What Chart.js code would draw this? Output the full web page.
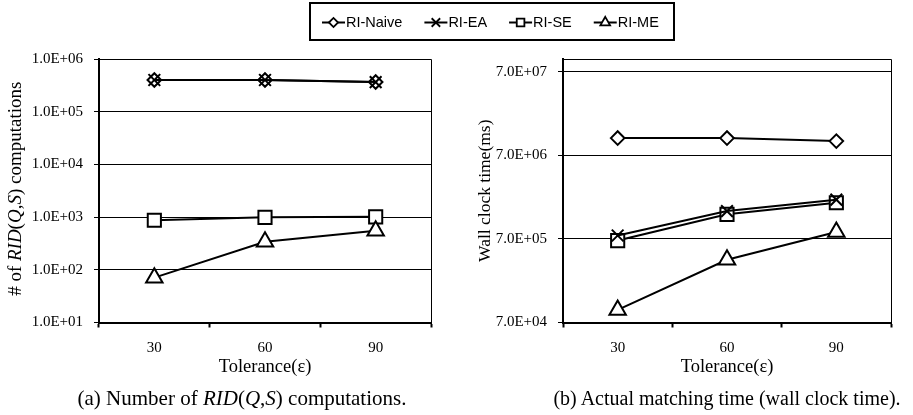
<!DOCTYPE html>
<html>
<head>
<meta charset="utf-8">
<script src="https://cdn.jsdelivr.net/npm/chart.js@4.4.0/dist/chart.umd.min.js"></script>
<style>
  html, body { margin: 0; padding: 0; background: #fff; }
  #wrap { position: relative; width: 913px; height: 415px; overflow: hidden; }
  canvas { position: absolute; left: 0; top: 0; }
  .cap {
    position: absolute; white-space: nowrap; color: #000;
    font-family: "Liberation Serif", "DejaVu Serif", serif; font-size: 20px;
    transform: translate(-50%, -50%);
  }
  .cap.a { font-size: 21px; }
</style>
</head>
<body>
<div id="wrap">
  <canvas id="chartA" width="913" height="415"></canvas>
  <canvas id="chartB" width="913" height="415"></canvas>
  <div class="cap a" style="left:242px; top:398px">(a) Number of <i>RID</i>(<i>Q</i>,<i>S</i>) computations.</div>
  <div class="cap" style="left:727px; top:398px">(b) Actual matching time (wall clock time).</div>
</div>
<script>
// Categories and series names
const tolerance = ['30', '60', '90'];
const seriesNames = ['RI-Naive', 'RI-EA', 'RI-SE', 'RI-ME'];

// (a) number of RID(Q,S) computations
const ridNaive = [4.0e5, 4.0e5, 3.66e5];
const ridEA    = [4.0e5, 4.0e5, 3.65e5];
const ridSE    = [870, 990, 1010];
const ridME    = [71, 341, 552];

// (b) wall clock time in ms
const timeNaive = [1.13e7, 1.13e7, 1.04e7];
const timeEA    = [7.7e5, 1.51e6, 2.07e6];
const timeSE    = [6.7e5, 1.38e6, 1.9e6];
const timeME    = [9.9e4, 3.95e5, 8.47e5];

// y-axis tick values
const ridTicks  = [1e1, 1e2, 1e3, 1e4, 1e5, 1e6];
const timeTicks = [7e4, 7e5, 7e6, 7e7];

const SERIF = '"Liberation Serif", "DejaVu Serif", serif';
const SANS = '"Liberation Sans", Arial, sans-serif';

// marker style for each series, in series order
const markers = [
  { pointStyle: 'rectRot',  radius: 6.8, legendRadius: 4.6 },
  { pointStyle: 'crossRot', radius: 8.3, legendRadius: 6   },
  { pointStyle: 'rect',     radius: 9.3, legendRadius: 5.4 },
  { pointStyle: 'triangle', radius: 9.5, legendRadius: 5.6 }
];
// drawing order: cross drawn over the open markers
const drawOrder = [4, 1, 3, 2];

// "1.0E+06" style labels
function sci(v) {
  const e = Math.floor(Math.log10(v) + 1e-9);
  const m = v / Math.pow(10, e);
  return m.toFixed(1) + 'E+' + String(e).padStart(2, '0');
}

function makeDatasets(series) {
  return series.map((data, i) => ({
    label: seriesNames[i],
    data: data,
    borderColor: '#000',
    backgroundColor: '#fff',
    borderWidth: 2,
    pointStyle: markers[i].pointStyle,
    pointRadius: markers[i].radius,
    pointHoverRadius: markers[i].radius,
    pointBorderWidth: 2,
    pointBorderColor: '#000',
    pointBackgroundColor: '#fff',
    order: drawOrder[i],
    tension: 0,
    fill: false
  }));
}

// thin top and right edges of the plot frame
const framePlugin = {
  id: 'frame',
  afterDatasetsDraw(chart) {
    const { ctx, chartArea: a } = chart;
    ctx.save();
    ctx.strokeStyle = '#000';
    ctx.lineWidth = 1;
    ctx.beginPath();
    ctx.moveTo(a.left, a.top + 0.5);
    ctx.lineTo(a.right + 0.5, a.top + 0.5);
    ctx.lineTo(a.right + 0.5, a.bottom);
    ctx.stroke();
    ctx.restore();
  }
};

// y title with italic parts: "# of RID(Q,S) computations"
const ridTitleParts = [['# of ', false], ['RID', true], ['(', false], ['Q', true], [',', false], ['S', true], [') computations', false]];
const richTitlePlugin = {
  id: 'richTitle',
  afterDraw(chart) {
    const { ctx, chartArea: a } = chart;
    const size = 19;
    const fontOf = it => (it ? 'italic ' : '') + size + 'px ' + SERIF;
    ctx.save();
    let total = 0;
    ridTitleParts.forEach(([t, it]) => { ctx.font = fontOf(it); total += ctx.measureText(t).width; });
    ctx.translate(16, (a.top + a.bottom) / 2 - 2);
    ctx.rotate(-Math.PI / 2);
    ctx.fillStyle = '#000';
    ctx.textBaseline = 'middle';
    ctx.textAlign = 'left';
    let x = -total / 2;
    ridTitleParts.forEach(([t, it]) => {
      ctx.font = fontOf(it);
      ctx.fillText(t, x, 0);
      x += ctx.measureText(t).width;
    });
    ctx.restore();
  }
};

// shared legend box across the top of the page
const legendPlugin = {
  id: 'sharedLegend',
  afterDraw(chart) {
    const { ctx } = chart;
    const box = { left: 310, top: 3, right: 674, bottom: 40 };
    const cy = 22.5;
    ctx.save();
    ctx.strokeStyle = '#000';
    ctx.lineWidth = 2;
    ctx.strokeRect(box.left, box.top, box.right - box.left, box.bottom - box.top);
    ctx.font = '14.5px ' + SANS;
    ctx.textBaseline = 'middle';
    ctx.textAlign = 'left';
    let x = 322;
    chart.data.datasets.forEach((ds, i) => {
      const iconW = 23;
      ctx.strokeStyle = '#000';
      ctx.lineWidth = 2;
      ctx.beginPath();
      ctx.moveTo(x, cy);
      ctx.lineTo(x + iconW, cy);
      ctx.stroke();
      ctx.fillStyle = '#fff';
      ctx.lineWidth = 1.8;
      Chart.helpers.drawPoint(ctx, {
        pointStyle: markers[i].pointStyle, rotation: 0,
        radius: markers[i].legendRadius, borderWidth: 1.8
      }, x + iconW / 2, cy);
      ctx.fillStyle = '#000';
      ctx.fillText(ds.label, x + iconW + 1, cy + 0.5);
      x += iconW + 1 + ctx.measureText(ds.label).width + 22;
    });
    ctx.restore();
  }
};

function makeChart(canvasId, series, ticks, yRange, layout, yTitle, extraPlugins) {
  return new Chart(document.getElementById(canvasId), {
    type: 'line',
    data: { labels: tolerance, datasets: makeDatasets(series) },
    plugins: [framePlugin].concat(extraPlugins),
    options: {
      responsive: false,
      animation: false,
      devicePixelRatio: 1,
      events: [],
      layout: { padding: layout.padding },
      plugins: { legend: { display: false }, tooltip: { enabled: false }, title: { display: false } },
      scales: {
        x: {
          type: 'category',
          offset: true,
          grid: {
            offset: true, drawOnChartArea: false, drawTicks: true,
            tickLength: 5, tickWidth: 2, tickColor: '#000', color: '#000'
          },
          border: { display: true, color: '#000', width: 2 },
          ticks: { color: '#000', padding: 12, font: { family: SERIF, size: 15 } },
          title: {
            display: true, text: 'Tolerance(ε)', color: '#000',
            font: { family: SERIF, size: 18.5 }, padding: { top: 0, bottom: 0 }
          },
          afterFit: s => { s.height = 56; }
        },
        y: {
          type: 'logarithmic',
          min: yRange[0],
          max: yRange[1],
          afterBuildTicks: s => { s.ticks = ticks.map(v => ({ value: v })); },
          grid: {
            color: '#000', lineWidth: 1, drawTicks: true,
            tickLength: 5, tickWidth: 1, tickColor: '#000'
          },
          border: { display: true, color: '#000', width: 2 },
          ticks: {
            color: '#000', padding: 11, font: { family: SERIF, size: 15 },
            callback: v => sci(v)
          },
          title: yTitle
            ? { display: true, text: yTitle, color: '#000', font: { family: SERIF, size: 17.5 }, padding: { top: 0, bottom: 0 } }
            : { display: false },
          afterFit: s => { s.width = layout.yWidth; }
        }
      }
    }
  });
}

makeChart('chartA', [ridNaive, ridEA, ridSE, ridME], ridTicks, [1e1, 1e6],
  { padding: { left: 7, right: 482, top: 59, bottom: 36.5 }, yWidth: 92 },
  null, [richTitlePlugin, legendPlugin]);

makeChart('chartB', [timeNaive, timeEA, timeSE, timeME], timeTicks, [7e4, 1e8],
  { padding: { left: 475, right: 22, top: 59, bottom: 36.5 }, yWidth: 88 },
  'Wall clock time(ms)', []);
</script>
</body>
</html>
